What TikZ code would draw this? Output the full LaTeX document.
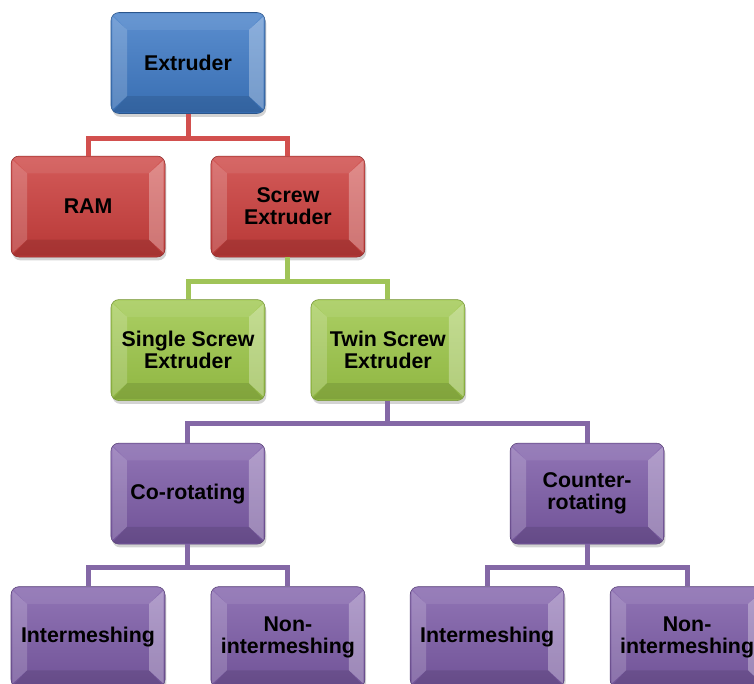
\documentclass[tikz,border=0pt]{standalone}
\usepackage{fontspec}
\setmainfont{Liberation Sans}
\usetikzlibrary{positioning,shadows}

\definecolor{extblue}{RGB}{62,122,198}
\definecolor{ramred}{RGB}{204,62,60}
\definecolor{linered}{RGB}{210,80,78}
\definecolor{scrgreen}{RGB}{156,198,72}
\definecolor{linegreen}{RGB}{160,196,88}
\definecolor{twinpurple}{RGB}{125,92,168}
\definecolor{linepurple}{RGB}{132,104,166}

\tikzset{
    bevel/.style={path picture={
        \fill[sharp corners,white,opacity=.18] ([shift={(1pt,3pt)}]path picture bounding box.south west)
            -- ([shift={(1pt,-3pt)}]path picture bounding box.north west)
            -- ([shift={(12pt,-13pt)}]path picture bounding box.north west)
            -- ([shift={(12pt,13pt)}]path picture bounding box.south west) -- cycle;
        \fill[sharp corners,white,opacity=.3] ([shift={(-1pt,3pt)}]path picture bounding box.south east)
            -- ([shift={(-1pt,-3pt)}]path picture bounding box.north east)
            -- ([shift={(-12pt,-13pt)}]path picture bounding box.north east)
            -- ([shift={(-12pt,13pt)}]path picture bounding box.south east) -- cycle;
        \fill[sharp corners,black,opacity=.1] ([shift={(1pt,1pt)}]path picture bounding box.south west)
            -- ([shift={(12pt,13pt)}]path picture bounding box.south west)
            -- ([shift={(-12pt,13pt)}]path picture bounding box.south east)
            -- ([shift={(-1pt,1pt)}]path picture bounding box.south east) -- cycle;
        \fill[sharp corners,white,opacity=.08] ([shift={(1pt,-1pt)}]path picture bounding box.north west)
            -- ([shift={(12pt,-13pt)}]path picture bounding box.north west)
            -- ([shift={(-12pt,-13pt)}]path picture bounding box.north east)
            -- ([shift={(-1pt,-1pt)}]path picture bounding box.north east) -- cycle;
    }}
}

\begin{document}
\begin{tikzpicture}[
    node distance=31.5pt and 17pt,
    box/.style={rounded corners=6pt,minimum width=115.5pt,minimum height=75.75pt,
        align=center,font=\bfseries\fontsize{16}{16.5}\selectfont,bevel,
        drop shadow={opacity=.35,shadow xshift=1pt,shadow yshift=-2.5pt}},
    bluebox/.style={box,top color=extblue!85!white,bottom color=extblue!90!black,draw=extblue!70!black},
    redbox/.style={box,top color=ramred!85!white,bottom color=ramred!90!black,draw=ramred!70!black},
    greenbox/.style={box,top color=scrgreen!85!white,bottom color=scrgreen!92!black,draw=scrgreen!75!black},
    purplebox/.style={box,top color=twinpurple!85!white,bottom color=twinpurple!90!black,draw=twinpurple!70!black},
    link/.style={line width=3.75pt}
]

\useasboundingbox (0,0) rectangle (565.5pt,-513pt);

\node[bluebox] (ext) at (141pt,-47.25pt) {Extruder};

\node[redbox] (ram) [below left=of ext.south] {RAM};
\node[redbox] (screw) [below right=of ext.south] {Screw\\Extruder};

\node[greenbox] (single) [below left=of screw.south] {Single Screw\\Extruder};
\node[greenbox] (twin) [below right=of screw.south] {Twin Screw\\Extruder};

\node[purplebox] (corot) [below left=31.5pt and 92pt of twin.south] {Co-rotating};
\node[purplebox] (counter) [below right=31.5pt and 91.5pt of twin.south] {Counter-\\rotating};

\node[purplebox] (cointer) [below left=of corot.south] {Intermeshing};
\node[purplebox] (cononinter) [below right=of corot.south] {Non-\\intermeshing};
\node[purplebox] (ctinter) [below left=of counter.south] {Intermeshing};
\node[purplebox] (ctnoninter) [below right=of counter.south] {Non-\\intermeshing};

% connectors
\draw[link,linered] (ext.south) -- ++(0,-18.75pt) -| (ram.north);
\draw[link,linered] (ext.south) -- ++(0,-18.75pt) -| (screw.north);

\draw[link,linegreen] (screw.south) -- ++(0,-18pt) -| (single.north);
\draw[link,linegreen] (screw.south) -- ++(0,-18pt) -| (twin.north);

\draw[link,linepurple] (twin.south) -- ++(0,-17pt) -| (corot.north);
\draw[link,linepurple] (twin.south) -- ++(0,-17pt) -| (counter.north);

\draw[link,linepurple] (corot.south) -- ++(0,-17pt) -| (cointer.north);
\draw[link,linepurple] (corot.south) -- ++(0,-17pt) -| (cononinter.north);
\draw[link,linepurple] (counter.south) -- ++(0,-17pt) -| (ctinter.north);
\draw[link,linepurple] (counter.south) -- ++(0,-17pt) -| (ctnoninter.north);

\end{tikzpicture}
\end{document}
